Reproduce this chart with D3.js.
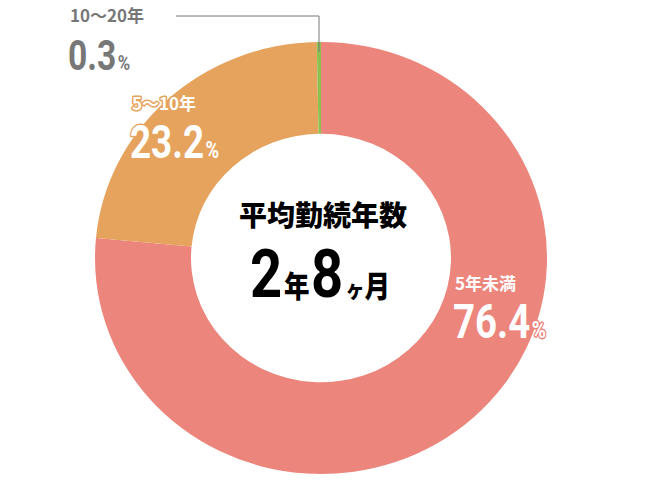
<!DOCTYPE html>
<html><head><meta charset="utf-8">
<script src="https://cdn.jsdelivr.net/npm/d3@7"></script>
<style>body{margin:0;background:#fff}</style></head><body>
<svg id="c" width="650" height="500"></svg>
<script>
const categories = ["5年未満", "5～10年", "10～20年"];
const values = [76.4, 23.2, 0.3];
const colors = ["#ec857b", "#e6a35d", "#8cc152"];
const centerTitle = "平均勤続年数";

const svg = d3.select("#c");
const cx = 321, cy = 258, rx = 226, ry = 216, inner = 130;
const g = svg.append("g").attr("transform", `translate(${cx},${cy}) scale(1,${ry/rx})`);
const pie = d3.pie().sort(null).value(d => d)(values);
const arc = d3.arc().innerRadius(inner).outerRadius(rx);
g.selectAll("path").data(pie).join("path").attr("d", arc).attr("fill", (d,i) => colors[i]);

const num = "'Roboto','Liberation Sans',sans-serif";
const jp = "'Noto Sans CJK JP',sans-serif";
function label(x, y, cat, val, fill, stroke, sz) {
  const t1 = svg.append("text").attr("x", x).attr("y", y).attr("font-family", jp)
    .attr("font-weight", 700).attr("font-size", 17).attr("fill", fill).text(cat);
  const t2 = svg.append("g").attr("transform", `translate(${x-2},${y+48}) scale(0.8,1)`)
    .append("text").attr("font-family", num)
    .attr("font-weight", 700).attr("font-size", sz).attr("fill", fill);
  t2.append("tspan").text(val.toFixed(1));
  t2.append("tspan").attr("font-size", sz * 0.5).attr("dx", 2).text("%");
  if (stroke) [t1, t2].forEach(t => t.attr("stroke", stroke).attr("stroke-width", 3)
    .attr("paint-order", "stroke").attr("stroke-linejoin", "round"));
}
label(455, 290, categories[0], values[0], "#fff", "#ec857b", 48);
label(132, 110, categories[1], values[1], "#fff", "#e6a35d", 46);
label(70, 22, categories[2], values[2], "#777", null, 42);
svg.append("polyline").attr("points", "176,16 319,16 319,52").attr("fill", "none")
  .attr("stroke", "#777").attr("stroke-width", 1);

svg.append("text").attr("x", 323).attr("y", 226).attr("text-anchor", "middle")
  .attr("font-family", jp).attr("font-weight", 900).attr("font-size", 28).text(centerTitle);
const ct = svg.append("g").attr("transform", "translate(320,297) scale(0.85,1)")
  .append("text").attr("text-anchor", "middle").attr("font-family", num).attr("font-weight", 700);
ct.append("tspan").attr("font-size", 66).text("2");
ct.append("tspan").attr("font-family", jp).attr("font-weight", 900).attr("font-size", 30).attr("dx", 2).text("年");
ct.append("tspan").attr("font-size", 66).attr("dx", 2).text("8");
ct.append("tspan").attr("font-family", jp).attr("font-weight", 900).attr("font-size", 22).attr("dx", 3).text("ヶ");
ct.append("tspan").attr("font-family", jp).attr("font-weight", 900).attr("font-size", 30).text("月");
</script></body></html>
